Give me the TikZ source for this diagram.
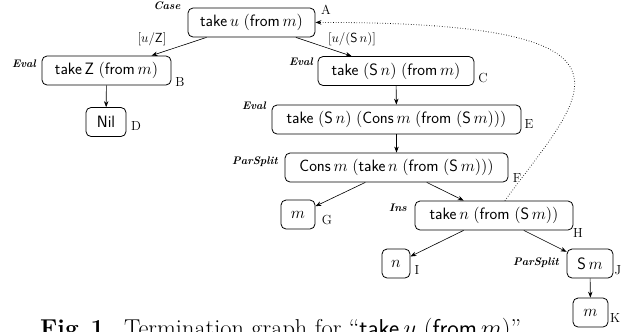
\RequirePackage{fix-cm}
\documentclass[tikz,border=0pt]{standalone}
\usetikzlibrary{arrows.meta}
\newcommand\kw[1]{\textsf{#1}}
\newcommand\mainfs{\fontsize{16.5}{19}\selectfont}
\newcommand\smallfs{\fontsize{13.2}{15}\selectfont}
\newcommand\rulefs{\fontsize{11}{13}\selectfont}
\newcommand\capfs{\fontsize{24.5}{28}\selectfont}
\tikzset{
  box/.style={draw, rounded corners=5bp, line width=0.8bp, inner xsep=2bp, inner ysep=0bp, minimum height=29bp, font=\mainfs},
  tag/.style={font=\smallfs, inner sep=0pt},
  rulelbl/.style={font=\rulefs\bfseries\itshape, inner sep=0pt},
  sublbl/.style={font=\smallfs, inner sep=0pt},
  edge/.style={-{Stealth[length=6bp,width=4.5bp]}, line width=0.6bp},
}
\begin{document}
\begin{tikzpicture}[x=1bp,y=-1bp]
\clip (0,0) rectangle (623,331);
% nodes
\node[box, minimum width=127bp] (A) at (251.5,22.5) {$\kw{take}\,u\;(\kw{from}\,m)$};
\node[box, minimum width=129bp] (B) at (106.5,70.5) {$\kw{take}\,\kw{Z}\;(\kw{from}\,m)$};
\node[box, minimum width=156bp] (C) at (396,71) {$\kw{take}\;(\kw{S}\,n)\;(\kw{from}\,m)$};
\node[box, minimum width=40bp] (D) at (106,122) {\kw{Nil}};
\node[box, minimum width=249bp] (E) at (396.5,119.5) {$\kw{take}\;(\kw{S}\,n)\;(\kw{Cons}\,m\;(\kw{from}\;(\kw{S}\,m)))$};
\node[box, minimum width=223bp] (F) at (396.5,167.5) {$\kw{Cons}\,m\;(\kw{take}\,n\;(\kw{from}\;(\kw{S}\,m)))$};
\node[box, minimum width=34bp] (G) at (298,214.5) {$m$};
\node[box, minimum width=158bp] (H) at (494,215.5) {$\kw{take}\,n\;(\kw{from}\;(\kw{S}\,m))$};
\node[box, minimum width=28bp] (I) at (396,263.5) {$n$};
\node[box, minimum width=46bp] (J) at (590,263.5) {$\kw{S}\,m$};
\node[box, minimum width=35bp] (K) at (590.5,312.5) {$m$};
% corner tags
\node[tag] (tA) at (326,10) {A};
\node[tag] (tB) at (180,82) {B};
\node[tag] (tC) at (483,78) {C};
\node[tag] (tD) at (136,126) {D};
\node[tag] (tE) at (529,124) {E};
\node[tag] (tF) at (517,178) {F};
\node[tag] (tG) at (327,220) {G};
\node[tag] (tH) at (578,233) {H};
\node[tag] (tI) at (417,270) {I};
\node[tag] (tJ) at (618,270) {J};
\node[tag] (tK) at (615,318) {K};
% rule labels
\node[rulelbl] (rA) at (167,6) {Case};
\node[rulelbl] (rB) at (24,64) {Eval};
\node[rulelbl] (rC) at (301,62) {Eval};
\node[rulelbl] (rE) at (254,106) {Eval};
\node[rulelbl] (rF) at (255,162) {ParSplit};
\node[rulelbl] (rH) at (398,208) {Ins};
\node[rulelbl] (rJ) at (536,263) {ParSplit};
% substitution labels
\node[sublbl] (sB) at (152,39) {$[u/\kw{Z}]$};
\node[sublbl] (sC) at (352,39) {$[u/(\kw{S}\,n)]$};
% edges
\draw[edge] (A) -- (B);
\draw[edge] (A) -- (C);
\draw[edge] (B) -- (D);
\draw[edge] (C) -- (E);
\draw[edge] (E) -- (F);
\draw[edge] (F) -- (G);
\draw[edge] (F) -- (H);
\draw[edge] (H) -- (I);
\draw[edge] (H) -- (J);
\draw[edge] (J) -- (K);
\draw[edge, dotted, line width=0.8bp] (H) .. controls (582,95) and (670,22) .. (A);
% caption
\node[anchor=base west, font=\capfs, inner sep=0pt] (cap) at (40,336) {\textbf{Fig.\,1.}\enspace Termination graph for ``$\kw{take}\,u\;(\kw{from}\,m)$''};
\end{tikzpicture}
\end{document}
